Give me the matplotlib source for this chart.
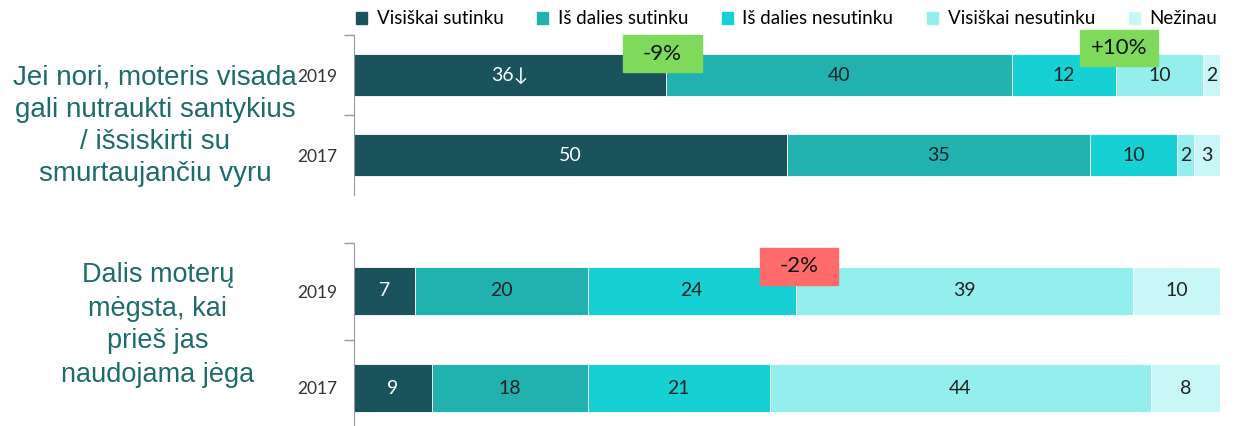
import matplotlib.pyplot as plt
from matplotlib.patches import Rectangle

categories = ["Visiškai sutinku", "Iš dalies sutinku", "Iš dalies nesutinku",
              "Visiškai nesutinku", "Nežinau"]
years = ["2019", "2017"]

q1_label = "Jei nori, moteris visada\ngali nutraukti santykius\n/ išsiskirti su\nsmurtaujančiu vyru"
q1_2019 = [36, 40, 12, 10, 2]
q1_2017 = [50, 35, 10, 2, 3]

q2_label = "Dalis moterų\nmėgsta, kai\nprieš jas\nnaudojama jėga"
q2_2019 = [7, 20, 24, 39, 10]
q2_2017 = [9, 18, 21, 44, 8]

colors = ["#1b535c", "#21b1ae", "#16d0d4", "#94eeee", "#c9f6f6"]
text_colors = ["white", "#222222", "#222222", "#222222", "#222222"]
label_color = "#1e6b6b"
bar_font = ["Lato", "DejaVu Sans"]

W, H = 1236, 426
fig = plt.figure(figsize=(W / 100, H / 100), dpi=100)

def px_axes(x0, y0, x1, y1):
    return fig.add_axes([x0 / W, 1 - y1 / H, (x1 - x0) / W, (y1 - y0) / H])

def draw_group(ax, rows, height, first_suffix=None):
    for yi, row in enumerate(rows):
        left = 0
        for ci, v in enumerate(row):
            ax.barh(yi, v, left=left, height=height, color=colors[ci],
                    edgecolor="white", linewidth=0.6)
            txt = str(v)
            if first_suffix and yi == 0 and ci == 0:
                txt += first_suffix
            ax.text(left + v / 2, yi, txt, ha="center", va="center",
                    fontsize=14, color=text_colors[ci], family=bar_font)
            left += v
    ax.set_xlim(0, 100)
    ax.set_ylim(len(rows) - 0.5, -0.5)
    ax.set_yticks(range(len(rows)))
    ax.set_yticklabels(years, fontsize=12.5, color="#333333", family=bar_font)
    ax.tick_params(axis="y", which="major", length=0, pad=12)
    ax.set_yticks([-0.5, 0.5], minor=True)
    ax.tick_params(axis="y", which="minor", length=7, color="#999999", width=1)
    ax.set_xticks([])
    for s in ["top", "right", "bottom"]:
        ax.spines[s].set_visible(False)
    ax.spines["left"].set_color("#999999")

ax1 = px_axes(354, 35, 1220, 195)
draw_group(ax1, [q1_2019, q1_2017], 0.52, first_suffix="↓")

ax2 = px_axes(354, 242.5, 1220, 436.5)
draw_group(ax2, [q2_2019, q2_2017], 0.5)

fig.text(155 / W, 1 - 126 / H, q1_label, ha="center", va="center",
         fontsize=20, color=label_color, family="Liberation Sans", linespacing=1.3)
fig.text(158 / W, 1 - 325 / H, q2_label, ha="center", va="center",
         fontsize=19.5, color=label_color, family="Liberation Sans", linespacing=1.35)

# change badges (pixel boxes)
badges = [("-9%", 623, 35, 702, 72, "#7fd95a"),
          ("+10%", 1080, 30, 1158, 66, "#7fd95a"),
          ("-2%", 760, 248, 838, 285, "#ff6b6b")]
for txt, x0, y0, x1, y1, c in badges:
    fig.patches.append(Rectangle((x0 / W, 1 - y1 / H), (x1 - x0) / W, (y1 - y0) / H,
                                 transform=fig.transFigure, color=c, zorder=5))
    fig.text((x0 + x1) / 2 / W, 1 - (y0 + y1) / 2 / H, txt, ha="center", va="center",
             fontsize=16, color="#111111", family=bar_font, zorder=6)

handles = [Rectangle((0, 0), 1, 1, color=c) for c in colors]
fig.legend(handles, categories, loc="upper right", bbox_to_anchor=(1234 / W, 1.015),
           ncol=5, frameon=False, handlelength=0.6, handleheight=0.6,
           handletextpad=0.5, columnspacing=1.8,
           prop={"family": bar_font, "size": 13.5})

fig.savefig("out.png", dpi=100)
